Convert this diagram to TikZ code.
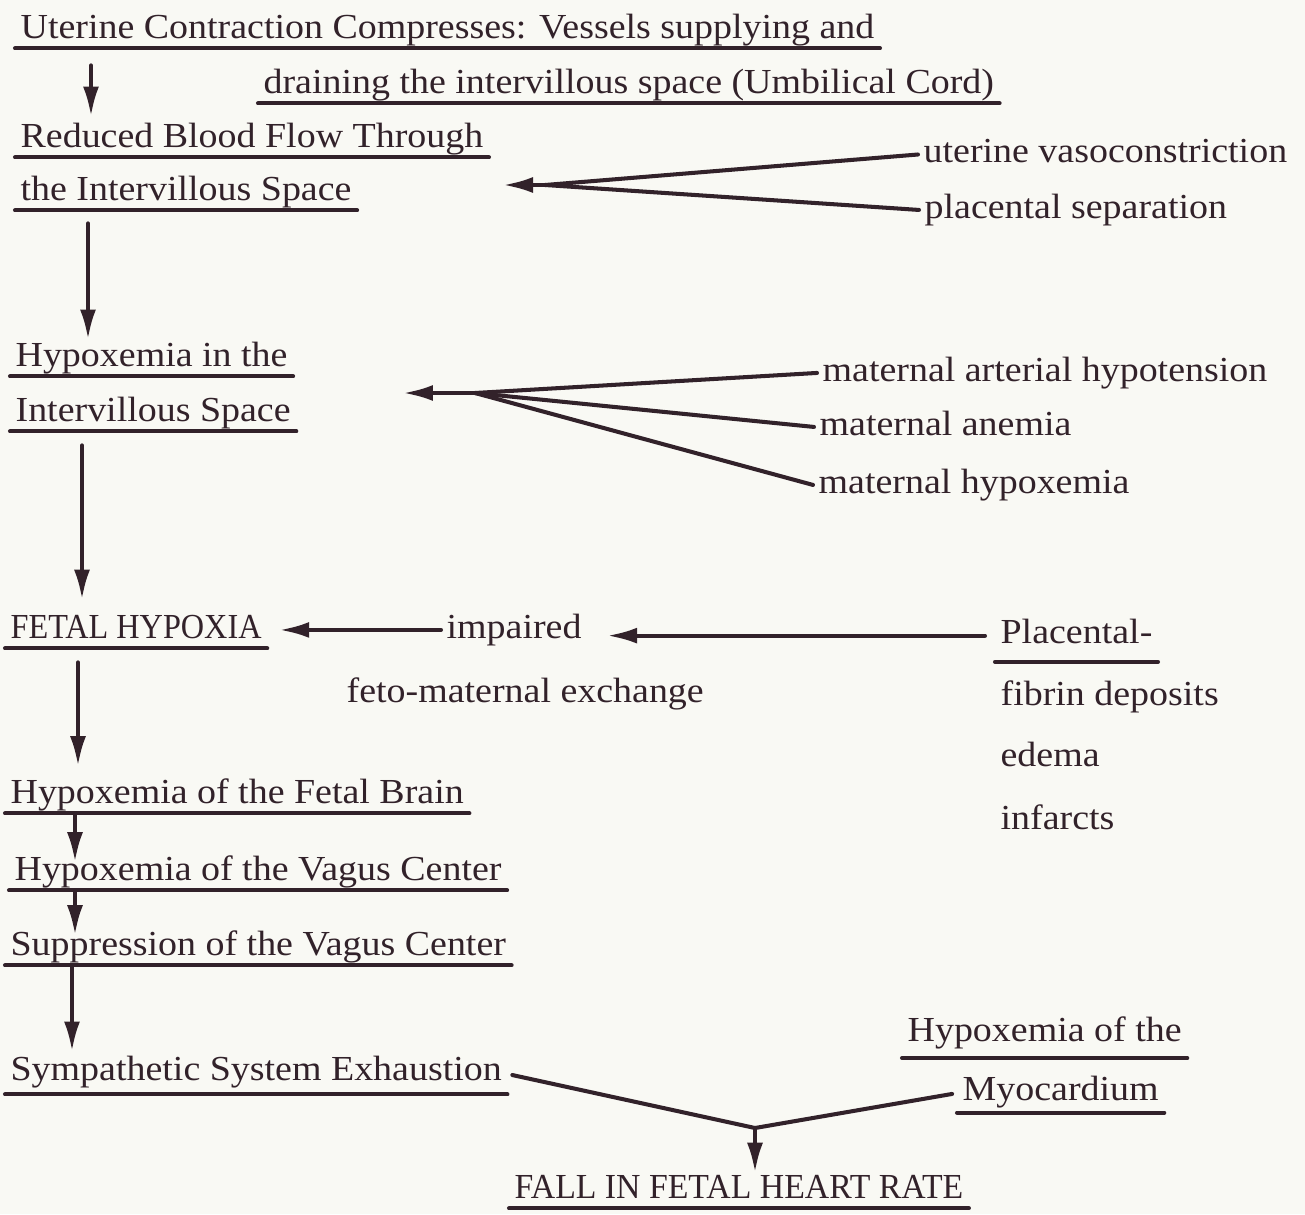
\documentclass[tikz,border=0pt]{standalone}
\usepackage{fontspec}
\setmainfont[FakeStretch=1.08]{Liberation Serif}
\usetikzlibrary{arrows.meta, positioning}

\definecolor{ink}{RGB}{50,34,42}
\definecolor{paper}{RGB}{249,249,244}

\begin{document}
\begin{tikzpicture}[
    x=0.02cm, y=-0.02cm,
    every node/.style={font=\fontsize{20}{24}\selectfont, text=ink},
    term/.style={anchor=base west, inner xsep=3pt, inner ysep=1pt, text depth=0.47em},
    uline/.style={draw=ink, line width=2.3pt, line cap=round},
    ulterm/.style={term, append after command={(\tikzlastnode.south west) edge[uline] (\tikzlastnode.south east)}},
    link/.style={draw=ink, line width=2.3pt, line cap=round},
    flow/.style={link, -{Latex[length=6mm, width=3.2mm]}},
]

% background / page size
\fill[paper] (0,0) rectangle (1305,1214);
\useasboundingbox (0,0) rectangle (1305,1214);

% Top of the chain
\node[ulterm] (Uterine) at (15,38) {Uterine Contraction Compresses: Vessels supplying and};
\node[ulterm] (Draining) at (258,93) {draining the intervillous space (Umbilical Cord)};
\node[ulterm] (Reduced) at (15,147) {Reduced Blood Flow Through};
\node[ulterm] (FlowSpace) at (15,200) {the Intervillous Space};

% causes of reduced flow
\node[term] (UterineVaso) at (918,162) {uterine vasoconstriction};
\node[term] (PlacentalSep) at (919,218) {placental separation};

% Hypoxemia in the intervillous space
\node[ulterm] (HypoxSpace) at (10,366) {Hypoxemia in the};
\node[ulterm] (HypoxSpaceB) at (10,421) {Intervillous Space};

% maternal causes
\node[term] (MatHypotension) at (817,381) {maternal arterial hypotension};
\node[term] (MatAnemia) at (814,435) {maternal anemia};
\node[term] (MatHypoxemia) at (813,493) {maternal hypoxemia};

% Fetal hypoxia
\node[ulterm] (FetalHypoxia) at (5,638) {\scalebox{0.85}[1]{FETAL HYPOXIA}};
\node[term] (Impaired) at (441,638) {impaired};
\node[term] (Exchange) at (341,702) {feto-maternal exchange};

% placental lesions
\node[ulterm, text depth=0.95em] (Placental) at (995,643) {Placental-};
\node[term] (Fibrin) at (995,705) {fibrin deposits};
\node[term] (Edema) at (995,766) {edema};
\node[term] (Infarcts) at (995,829) {infarcts};

% lower chain
\node[ulterm] (FetalBrain) at (5,803) {Hypoxemia of the Fetal Brain};
\node[ulterm] (VagusHyp) at (9,880) {Hypoxemia of the Vagus Center};
\node[ulterm] (Suppression) at (5,955) {Suppression of the Vagus Center};
\node[ulterm, text depth=0.7em] (Sympathetic) at (5,1080) {Sympathetic System Exhaustion};

% myocardium
\node[ulterm, text depth=0.85em] (MyoHyp) at (902,1041) {Hypoxemia of the};
\node[ulterm, text depth=0.6em] (Myocardium) at (957,1100) {Myocardium};

% result
\node[ulterm] (FallRate) at (509,1198) {\scalebox{0.89}[1]{FALL IN FETAL HEART RATE}};

% join points
\coordinate (FlowJoin) at (545,185);
\coordinate (FlowIn) at (503,185);
\coordinate (HypoxJoin) at (475,393);
\coordinate (HypoxIn) at (403,393);
\coordinate (RateJoin) at (755,1128);

% Lines
\draw[flow, shorten <=0.34cm, shorten >=0.08cm] (91,0 |- Uterine.south) -- (91,0 |- Reduced.north);
\draw[flow, shorten <=0.26cm, shorten >=0cm] (88,0 |- FlowSpace.south) -- (88,0 |- HypoxSpace.north);
\draw[flow, shorten <=0.28cm, shorten >=0.26cm] (82,0 |- HypoxSpaceB.south) -- (82,0 |- FetalHypoxia.north);
\draw[flow, shorten <=0.28cm, shorten >=0.2cm] (78,0 |- FetalHypoxia.south) -- (78,0 |- FetalBrain.north);
\draw[flow, shorten <=0.02cm, shorten >=-0.18cm] (75,0 |- FetalBrain.south) -- (75,0 |- VagusHyp.north);
\draw[flow, shorten <=0.02cm, shorten >=-0.14cm] (75,0 |- VagusHyp.south) -- (75,0 |- Suppression.north);
\draw[flow, shorten <=0.04cm, shorten >=0.04cm] (72,0 |- Suppression.south) -- (72,0 |- Sympathetic.north);

\draw[link] (UterineVaso.west) -- (FlowJoin);
\draw[link] (PlacentalSep.west) -- (FlowJoin);
\draw[flow] (FlowJoin) -- (FlowIn);

\draw[link] (MatHypotension.west) -- (HypoxJoin);
\draw[link] (MatAnemia.west) -- (HypoxJoin);
\draw[link] (MatHypoxemia.west) -- (HypoxJoin);
\draw[flow] (HypoxJoin) -- (HypoxIn);

\draw[flow, shorten >=0.24cm] (Impaired.west) -- (Impaired.west -| FetalHypoxia.east);
\draw[flow, shorten <=0.2cm, shorten >=0.4cm] ([yshift=2pt]Placental.west) -- ([yshift=2pt]Placental.west -| Impaired.east);

\draw[link, shorten <=0.1cm] (Sympathetic.east) -- (RateJoin);
\draw[link, shorten <=0.1cm] (Myocardium.west) -- (RateJoin);
\draw[flow, shorten >=0cm] (RateJoin) -- (RateJoin |- FallRate.north);

\end{tikzpicture}
\end{document}
